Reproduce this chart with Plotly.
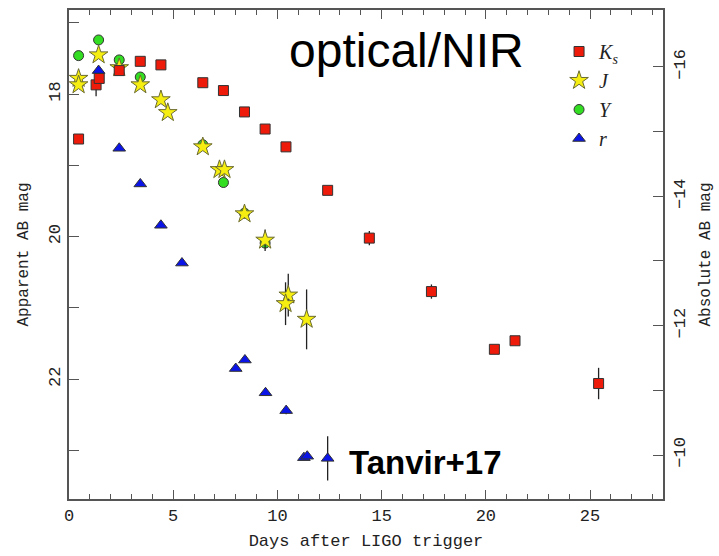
import plotly.graph_objects as go

# ---- data (days after trigger, apparent AB mag, error) ----
ks_days = [0.46, 1.30, 1.45, 2.41, 3.42, 4.41, 6.42, 7.41, 8.42, 9.41, 10.41, 12.41, 14.41, 17.39, 20.41, 21.40, 25.41]
ks_mag  = [18.63, 17.87, 17.78, 17.67, 17.54, 17.59, 17.84, 17.95, 18.25, 18.49, 18.74, 19.35, 20.02, 20.77, 21.58, 21.46, 22.06]
ks_err  = [0.0, 0.16, 0.0, 0.0, 0.0, 0.0, 0.0, 0.0, 0.0, 0.0, 0.0, 0.06, 0.1, 0.1, 0.0, 0.05, 0.22]

j_days = [0.46, 0.46, 1.42, 2.41, 3.42, 4.41, 4.74, 6.42, 7.22, 7.46, 8.42, 9.41, 10.52, 10.39, 11.40]
j_mag  = [17.78, 17.87, 17.45, 17.63, 17.87, 18.08, 18.26, 18.74, 19.06, 19.06, 19.68, 20.05, 20.82, 20.94, 21.16]
j_err  = [0.0, 0.0, 0.0, 0.0, 0.0, 0.0, 0.0, 0.0, 0.0, 0.0, 0.06, 0.15, 0.3, 0.3, 0.42]

y_days = [0.46, 1.42, 2.41, 3.42, 6.42, 7.41, 8.42, 9.41]
y_mag  = [17.46, 17.24, 17.52, 17.76, 18.71, 19.24, 19.67, 20.09]

r_days = [1.42, 2.41, 3.42, 4.41, 5.42, 8.00, 8.44, 9.43, 10.42, 11.27, 11.43, 12.41]
r_mag  = [17.67, 18.76, 19.26, 19.84, 20.37, 21.85, 21.73, 22.19, 22.44, 23.10, 23.08, 23.11]
r_err  = [0.0, 0.0, 0.0, 0.0, 0.0, 0.0, 0.0, 0.0, 0.05, 0.0, 0.0, 0.31]

x_range = [0, 28.5]
app_range = [23.68, 16.82]
abs_range = [-9.32, -16.88]

EDGE = "#333333"
AXC = "#555555"
MONO = "Liberation Mono, Courier New, monospace"

fig = go.Figure()

def err(e):
    return dict(type="data", array=e, visible=True, color="#222222", thickness=1.3, width=0)

fig.add_trace(go.Scatter(
    x=y_days, y=y_mag, mode="markers", name="<i>Y</i>",
    marker=dict(symbol="circle", size=10, color="#33dd22", line=dict(color=EDGE, width=1)),
    legendrank=3, legendgroup="Y"))
fig.add_trace(go.Scatter(
    x=j_days, y=j_mag, mode="markers", name="<i>J</i>", error_y=err(j_err),
    marker=dict(symbol="star", size=14, color="#f5ee10", line=dict(color="#6b6b30", width=1)),
    legendrank=2, legendgroup="J"))
fig.add_trace(go.Scatter(
    x=r_days, y=r_mag, mode="markers", name="<i>r</i>", error_y=err(r_err),
    marker=dict(symbol="triangle-up", size=11, color="#0a14e6", line=dict(color=EDGE, width=1)),
    legendrank=4, legendgroup="r"))
fig.add_trace(go.Scatter(
    x=ks_days, y=ks_mag, mode="markers", name="<i>K<sub>s</sub></i>", error_y=err(ks_err),
    marker=dict(symbol="square", size=10, color="#ee1a0a", line=dict(color=EDGE, width=1)),
    legendrank=1, legendgroup="Ks"))
# invisible trace to activate the right-hand axis
fig.add_trace(go.Scatter(x=[None], y=[None], yaxis="y2", showlegend=False, hoverinfo="skip"))

fig.add_annotation(x=0.569, y=0.918, xref="paper", yref="paper", text="optical/NIR",
                   xanchor="center", yanchor="middle", showarrow=False,
                   font=dict(family="Liberation Sans, Arial", size=48, color="black"))
fig.add_annotation(x=0.601, y=0.0754, xref="paper", yref="paper", text="<b>Tanvir+17</b>",
                   xanchor="center", yanchor="middle", showarrow=False,
                   font=dict(family="Liberation Sans, Arial", size=33, color="black"))

fig.update_layout(
    width=719, height=556,
    margin=dict(l=69, r=56, t=8, b=57),
    paper_bgcolor="white", plot_bgcolor="white",
    showlegend=True,
    legend=dict(x=0.825, y=0.955, xanchor="left", yanchor="top",
                bgcolor="rgba(0,0,0,0)", traceorder="grouped", tracegroupgap=0,
                font=dict(family="Liberation Serif, DejaVu Serif, serif", size=20, color="#222")),
    xaxis=dict(range=x_range, dtick=5, tick0=0, ticks="inside", ticklen=9, tickwidth=1.3,
               tickcolor=AXC, showline=True, linecolor=AXC, linewidth=1.5, mirror="ticks",
               showgrid=False, zeroline=False,
               minor=dict(dtick=1, ticks="inside", ticklen=5, tickwidth=1.2, tickcolor=AXC, showgrid=False),
               tickfont=dict(family=MONO, size=17, color="#222"),
               title=dict(text="Days after LIGO trigger", font=dict(family=MONO, size=17, color="#222"), standoff=9)),
    yaxis=dict(range=app_range, dtick=2, tick0=18, ticks="inside", ticklen=10, tickwidth=1.3,
               tickcolor=AXC, showline=True, linecolor=AXC, linewidth=1.5,
               showgrid=False, zeroline=False, tickangle=-90,
               minor=dict(dtick=1, ticks="inside", ticklen=10, tickwidth=1.3, tickcolor=AXC, showgrid=False),
               tickfont=dict(family=MONO, size=17, color="#222"),
               title=dict(text="Apparent AB mag", font=dict(family=MONO, size=16, color="#222"), standoff=14)),
    yaxis2=dict(range=abs_range, overlaying="y", side="right", anchor="x", dtick=2, tick0=-16,
                ticks="inside", ticklen=10, tickwidth=1.3, tickcolor=AXC,
                showline=True, linecolor=AXC, linewidth=1.5, showgrid=False, zeroline=False,
                tickangle=-90,
                minor=dict(dtick=1, ticks="inside", ticklen=10, tickwidth=1.3, tickcolor=AXC, showgrid=False),
                tickfont=dict(family=MONO, size=17, color="#222"),
                title=dict(text="Absolute AB mag", font=dict(family=MONO, size=16, color="#222"), standoff=10)),
)

fig.write_html("out.html")
